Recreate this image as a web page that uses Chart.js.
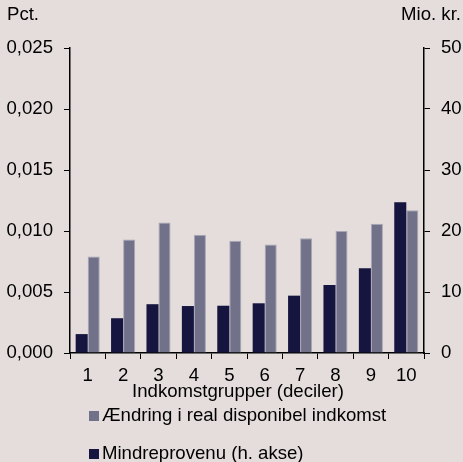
<!DOCTYPE html>
<html lang="da">
<head>
    <meta charset="UTF-8">
    <title>Indkomstgrupper</title>
    <script src="https://cdn.jsdelivr.net/npm/chart.js"></script>
    <style>
        html, body {
            margin: 0;
            padding: 0;
            background: #e4dddc;
        }
        #wrap {
            width: 463px;
            height: 462px;
        }
    </style>
</head>
<body>
    <div id="wrap"><canvas id="graph" width="463" height="462"></canvas></div>

    <script>
        const deciler = ['1', '2', '3', '4', '5', '6', '7', '8', '9', '10'];
        // Mio. kr., højre akse
        const mindreprovenu = [3.1, 5.7, 8.0, 7.7, 7.75, 8.15, 9.4, 11.15, 13.9, 24.7];
        // Pct., venstre akse
        const aendring = [0.0079, 0.0093, 0.0107, 0.0097, 0.0092, 0.0089, 0.0094, 0.0100, 0.0106, 0.0117];
        const venstreTicks = [0, 0.005, 0.010, 0.015, 0.020, 0.025];
        const hoejreTicks = [0, 10, 20, 30, 40, 50];

        const FONT = '"Liberation Sans", Arial, sans-serif';
        const FS = 18.6;
        Chart.defaults.font.family = FONT;
        Chart.defaults.font.size = FS;
        Chart.defaults.color = '#000';

        // aksetitler og forklaring tegnes selv
        const tekster = {
            id: 'tekster',
            afterDraw(chart) {
                const ctx = chart.ctx;
                const area = chart.chartArea;
                ctx.save();
                ctx.fillStyle = '#000';
                ctx.font = FS + 'px ' + FONT;
                ctx.textBaseline = 'alphabetic';
                ctx.textAlign = 'left';
                ctx.fillText('Pct.', 7, 20);
                ctx.textAlign = 'right';
                ctx.fillText('Mio. kr.', 461, 20);
                ctx.textAlign = 'center';
                ctx.fillText('Indkomstgrupper (deciler)', (area.left + area.right) / 2 - 9, area.bottom + 44);

                // forklaring: lys serie først
                const items = chart.data.datasets.slice().reverse();
                ctx.textAlign = 'left';
                items.forEach((ds, i) => {
                    const y = area.bottom + 68 + i * 38;
                    ctx.fillStyle = ds.backgroundColor;
                    ctx.fillRect(area.left + 19, y - 10, 10, 10);
                    ctx.fillStyle = '#000';
                    ctx.fillText(ds.label, area.left + 32, y);
                });
                ctx.restore();
            }
        };

        const ctx = document.getElementById('graph').getContext('2d');
        new Chart(ctx, {
            type: 'bar',
            data: {
                labels: deciler,
                datasets: [{
                    label: 'Mindreprovenu (h. akse)',
                    data: mindreprovenu,
                    yAxisID: 'y1',
                    backgroundColor: '#15153f',
                    categoryPercentage: 0.68,
                    barPercentage: 1.0
                }, {
                    label: 'Ændring i real disponibel indkomst',
                    data: aendring,
                    yAxisID: 'y',
                    backgroundColor: '#717189',
                    borderColor: '#a9a7b5',
                    borderWidth: 1,
                    borderSkipped: 'bottom',
                    categoryPercentage: 0.68,
                    barPercentage: 1.0
                }]
            },
            options: {
                responsive: false,
                animation: false,
                layout: { padding: { top: 48, left: 0, right: 0, bottom: 0 } },
                plugins: {
                    legend: { display: false },
                    tooltip: { enabled: false }
                },
                scales: {
                    x: {
                        afterFit(axis) { axis.height = 109; },
                        grid: { drawOnChartArea: false, tickLength: 6, color: '#000', lineWidth: 1 },
                        border: { display: true, color: '#000', width: 1.5 },
                        ticks: { padding: 6 }
                    },
                    y: {
                        position: 'left',
                        min: 0,
                        max: 0.025,
                        afterFit(axis) { axis.width = 70; },
                        afterBuildTicks(axis) { axis.ticks = venstreTicks.map(v => ({ value: v })); },
                        grid: { drawOnChartArea: false, tickLength: 6, color: '#000', lineWidth: 1 },
                        border: { display: true, color: '#000', width: 1.5 },
                        ticks: {
                            padding: 11,
                            callback: v => v.toFixed(3).replace('.', ',')
                        }
                    },
                    y1: {
                        position: 'right',
                        min: 0,
                        max: 50,
                        afterFit(axis) { axis.width = 39; },
                        afterBuildTicks(axis) { axis.ticks = hoejreTicks.map(v => ({ value: v })); },
                        grid: { drawOnChartArea: false, tickLength: 6, color: '#000', lineWidth: 1 },
                        border: { display: true, color: '#000', width: 1.5 },
                        ticks: { padding: 11 }
                    }
                }
            },
            plugins: [tekster]
        });
    </script>
</body>
</html>
